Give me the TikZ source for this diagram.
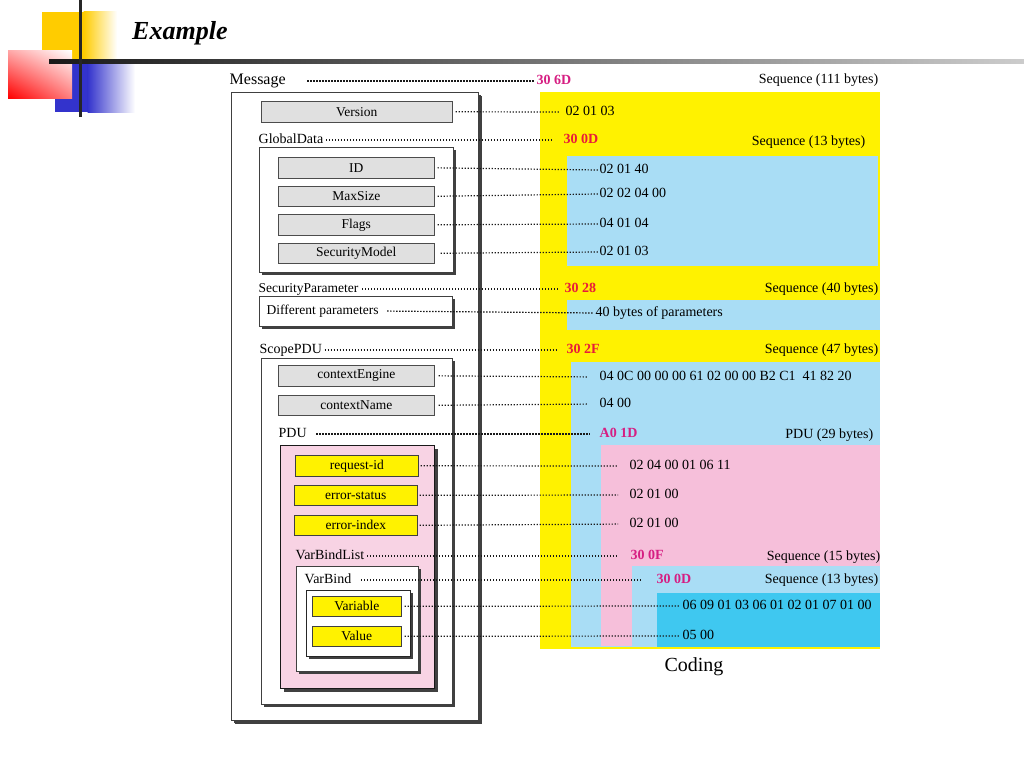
\documentclass[tikz,border=0pt]{standalone}
\usepackage{fontspec}
\setmainfont{Liberation Serif}
\usetikzlibrary{shadows,shadings}
\definecolor{ycol}{RGB}{255,204,0}
\definecolor{bcol}{RGB}{51,51,204}
\definecolor{cyel}{RGB}{255,242,0}
\definecolor{cblue}{RGB}{169,221,245}
\definecolor{cdblue}{RGB}{63,200,240}
\definecolor{cpink}{RGB}{246,191,218}
\definecolor{pdupink}{RGB}{248,211,228}
\definecolor{magT}{RGB}{214,30,130}
\definecolor{redT}{RGB}{232,27,58}
\newcommand{\myfs}{\fontsize{14}{16}\selectfont}
\newcommand{\myfb}{\fontsize{13.5}{16}\selectfont}
\tikzset{
  lbl/.style={anchor=west, inner sep=1.5pt, font=\myfs, text height=9.5pt, text depth=3pt},
  rlbl/.style={anchor=east, inner sep=1.5pt, font=\myfs, text height=9.5pt, text depth=3pt},
  hexm/.style={lbl, font=\myfs\bfseries, text=magT},
  hexr/.style={lbl, font=\myfs\bfseries, text=redT},
  dots/.style={draw=black!90, line width=1.2pt, dash pattern=on 1.3pt off 1.7pt},
  field/.style={draw=black!70, fill=black!12, line width=0.6pt, anchor=north west, inner sep=0pt, font=\myfb},
  yfield/.style={field, fill=cyel, draw=black!75},
  cont/.style={draw=black!75, fill=white, line width=0.7pt, anchor=north west, inner sep=0pt,
    drop shadow={shadow xshift=3pt, shadow yshift=-3pt, fill=black!75, opacity=1}},
}
\begin{document}
\begin{tikzpicture}[x=1pt,y=-1pt]
\useasboundingbox (0,0) rectangle (1024,768);
% header decoration
\fill[ycol] (42,12) rectangle (84,60);
\shade[left color=ycol, right color=white] (83.5,12) rectangle (117,60);
\fill[bcol] (55,61) rectangle (88,112);
\shade[left color=bcol, right color=white] (87.5,61) rectangle (135,112);
\shade[lower left=red, upper right=white, upper left=red!35!white, lower right=red!50!white] (8,51) rectangle (72,98);
\shade[left color=black!90, right color=black!20] (49,59) rectangle (1024,63);
\fill[black!85] (79,0) rectangle (82,117);
\node[anchor=west, inner sep=0pt, font=\fontsize{26}{30}\selectfont\bfseries\itshape] (title) at (132,33) {Example};

% coding rectangles
\fill[cyel] (540,92) rectangle (880,649);
\fill[cblue] (567,156) rectangle (878,266);
\fill[cblue] (567,300) rectangle (880,330);
\fill[cblue] (571,362) rectangle (880,647);
\fill[cpink] (601,445) rectangle (880,646);
\fill[cblue] (632,566) rectangle (880,647);
\fill[cdblue] (657,593) rectangle (880,647);

% containers
\node[cont, drop shadow={shadow xshift=4pt, shadow yshift=-4pt, fill=black!75, opacity=1}, minimum width=247pt, minimum height=628pt] (msgbox) at (231,92) {};
\node[cont, minimum width=194pt, minimum height=125pt] (gdbox) at (259,147) {};
\node[cont, minimum width=193pt, minimum height=30pt] (dpbox) at (259,296) {};
\node[cont, minimum width=191pt, minimum height=346pt] (scbox) at (261,358) {};
\node[cont, fill=pdupink, draw=black!90, line width=1.2pt, minimum width=154pt, minimum height=243pt] (pdubox) at (280,445) {};
\node[cont, minimum width=122pt, minimum height=105pt] (vblbox) at (296,566) {};
\node[cont, draw=black!85, line width=0.9pt, minimum width=104pt, minimum height=66pt] (vbbox) at (306,590) {};

% fields
\node[field, minimum width=191pt, minimum height=21pt] (version) at (261,101) {Version};
\node[field, minimum width=156pt, minimum height=21pt] (id) at (278,157) {ID};
\node[field, minimum width=156pt, minimum height=20pt] (maxsize) at (278,186) {MaxSize};
\node[field, minimum width=156pt, minimum height=21pt] (flags) at (278,214) {Flags};
\node[field, minimum width=156pt, minimum height=20pt] (secmodel) at (278,243) {SecurityModel};
\node[field, minimum width=156pt, minimum height=21pt] (ce) at (278,365) {contextEngine};
\node[field, minimum width=156pt, minimum height=20pt] (cn) at (278,395) {contextName};
\node[yfield, minimum width=123pt, minimum height=21pt] (rid) at (295,455) {request-id};
\node[yfield, minimum width=123pt, minimum height=20pt] (es) at (294,485) {error-status};
\node[yfield, minimum width=123pt, minimum height=20pt] (ei) at (294,515) {error-index};
\node[yfield, minimum width=89pt, minimum height=20pt] (var) at (312,596) {Variable};
\node[yfield, minimum width=89pt, minimum height=20pt] (val) at (312,626) {Value};

% left labels
\node[lbl, font=\fontsize{16}{18}\selectfont] (msg) at (228,81) {Message};
\node[lbl] (gd) at (257,140) {GlobalData};
\node[lbl, font=\myfb] (sp) at (257,289) {SecurityParameter};
\node[lbl, font=\myfb] (dp) at (265,311) {Different parameters};
\node[lbl] (scope) at (258,350) {ScopePDU};
\node[lbl] (pdu) at (277,434) {PDU};
\node[lbl] (vbl) at (294,556) {VarBindList};
\node[lbl] (vb) at (303,580) {VarBind};

% right texts
\node[hexm] (c1) at (535,81) {30 6D};
\node[rlbl] (s1) at (880,80) {Sequence (111 bytes)};
\node[lbl] (tv) at (564,112) {02 01 03};
\node[hexr] (c2) at (562,140) {30 0D};
\node[rlbl] (s2) at (867,142) {Sequence (13 bytes)};
\node[lbl] (t1) at (598,170) {02 01 40};
\node[lbl] (t2) at (598,194) {02 02 04 00};
\node[lbl] (t3) at (598,224) {04 01 04};
\node[lbl] (t4) at (598,252) {02 01 03};
\node[hexr] (c3) at (563,289) {30 28};
\node[rlbl] (s3) at (880,289) {Sequence (40 bytes)};
\node[lbl] (t40) at (594,313) {40 bytes of parameters};
\node[hexr] (c4) at (565,350) {30 2F};
\node[rlbl] (s4) at (880,350) {Sequence (47 bytes)};
\node[lbl] (t5) at (598,377) {04 0C 00 00 00 61 02 00 00 B2 C1\ \ 41 82 20};
\node[lbl] (t6) at (598,404) {04 00};
\node[hexm] (c5) at (598,434) {A0 1D};
\node[rlbl] (s5) at (875,435) {PDU (29 bytes)};
\node[lbl] (t7) at (628,466) {02 04 00 01 06 11};
\node[lbl] (t8) at (628,495) {02 01 00};
\node[lbl] (t9) at (628,524) {02 01 00};
\node[hexm] (c6) at (629,556) {30 0F};
\node[rlbl] (s6) at (882,557) {Sequence (15 bytes)};
\node[hexm] (c7) at (655,580) {30 0D};
\node[rlbl] (s7) at (880,580) {Sequence (13 bytes)};
\node[lbl] (t10) at (681,606) {06 09 01 03 06 01 02 01 07 01 00};
\node[lbl] (t11) at (681,636) {05 00};
\node[font=\fontsize{20}{24}\selectfont, inner sep=0pt] (coding) at (694,667) {Coding};

% connectors
\draw[dots, shorten <=20pt] (msg.east) -- (c1.west);
\draw[dots, shorten <=3pt, shorten >=4pt] (version.east) -- (tv.west);
\draw[dots, shorten <=1pt, shorten >=10pt] (gd.east) -- (c2.west);
\draw[dots, shorten <=3pt] (id.east) -- (t1.west);
\draw[dots, shorten <=3pt] (maxsize.east) -- (t2.west);
\draw[dots, shorten <=3pt] (flags.east) -- (t3.west);
\draw[dots, shorten <=6pt] (secmodel.east) -- (t4.west);
\draw[dots, shorten <=2pt, shorten >=3pt] (sp.east) -- (c3.west);
\draw[dots, shorten <=7pt] (dp.east) -- (t40.west);
\draw[dots, shorten <=1pt, shorten >=7pt] (scope.east) -- (c4.west);
\draw[dots, shorten <=4pt, shorten >=10pt] (ce.east) -- (t5.west);
\draw[dots, shorten <=4pt, shorten >=10pt] (cn.east) -- (t6.west);
\draw[dots, shorten <=8pt, shorten >=8pt] (pdu.east) -- (c5.west);
\draw[dots, shorten <=2pt, shorten >=10pt] (rid.east) -- (t7.west);
\draw[dots, shorten <=2pt, shorten >=10pt] (es.east) -- (t8.west);
\draw[dots, shorten <=2pt, shorten >=10pt] (ei.east) -- (t9.west);
\draw[dots, shorten <=1pt, shorten >=13pt] (vbl.east) -- (c6.west);
\draw[dots, shorten <=8pt, shorten >=13pt] (vb.east) -- (c7.west);
\draw[dots, shorten <=3pt, shorten >=1pt] (var.east) -- (t10.west);
\draw[dots, shorten <=3pt, shorten >=1pt] (val.east) -- (t11.west);
\end{tikzpicture}
\end{document}
